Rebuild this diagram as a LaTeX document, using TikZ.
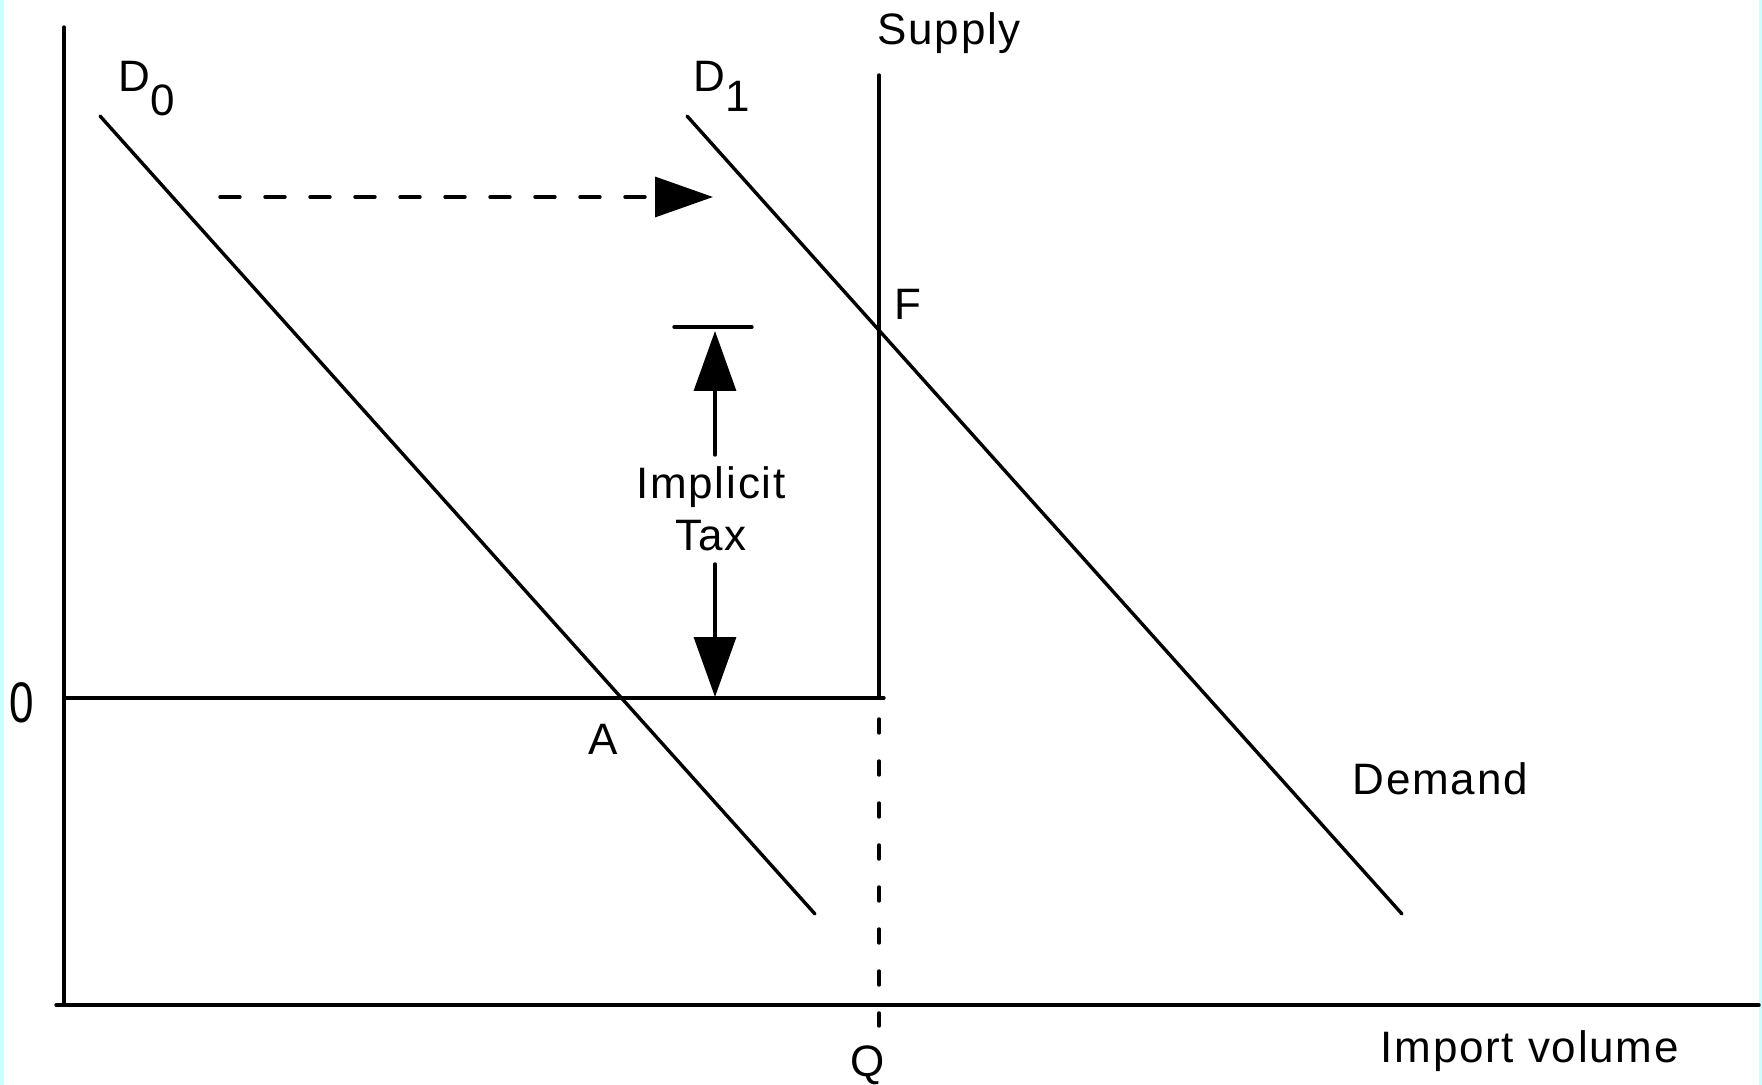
\documentclass[tikz,border=0pt]{standalone}
\usepackage{fontspec}
\setmainfont{Liberation Sans}[LetterSpace=4]
\usetikzlibrary{arrows.meta,positioning,calc}
\definecolor{edgecyan}{HTML}{CCFFFF}

\begin{document}
\begin{tikzpicture}[x=0.5pt,y=-0.5pt,
    line width=1.7pt, line cap=round,
    lbl/.style={inner sep=0pt,font=\fontsize{22}{26}\selectfont},
    bigtip/.style={-{Triangle[length=30pt,width=21pt]}},
    hdash/.style={dash pattern=on 10pt off 12.5pt},
    vdash/.style={dash pattern=on 7pt off 14pt}]
    \useasboundingbox (0,0) rectangle (1762,1085);

    % Side strips
    \fill[edgecyan] (0,0) rectangle (4,1085);
    \fill[edgecyan] (1759,0) rectangle (1762,1085);

    % Axes
    \coordinate (ytop) at (64,27);
    \coordinate (ybot) at (64,1005);
    \coordinate (xleft) at (56,1005);
    \coordinate (xright) at (1759,1005);
    \draw (ytop) -- (ybot);
    \draw (xleft) -- (xright);

    % Demand curves
    \coordinate (dzeroA) at (100,116);
    \coordinate (dzeroB) at (815,914);
    \coordinate (doneA) at (687,116);
    \coordinate (doneB) at (1402,914);
    \draw (dzeroA) -- (dzeroB);
    \draw (doneA) -- (doneB);

    % Supply (quota) and world price
    \coordinate (suptop) at (879,75);
    \coordinate (supbot) at (879,698);
    \coordinate (qtop) at (879,719);
    \coordinate (qbot) at (879,1026);
    \coordinate (pleft) at (65,698);
    \coordinate (pright) at (884,698);
    \draw (suptop) -- (supbot);
    \draw[vdash] (qtop) -- (qbot);
    \draw (pleft) -- (pright);

    % Shift of demand
    \coordinate (shiftA) at (220,197);
    \coordinate (shiftB) at (713,197);
    \draw[hdash,-{Triangle[length=29pt,width=20pt]}] (shiftA) -- (shiftB);

    % Implicit tax
    \coordinate (barL) at (674,327);
    \coordinate (barR) at (752,327);
    \draw (barL) -- (barR);
    \node[lbl,align=center] (tax) at (711,509) {Implicit\\Tax};
    \coordinate (taxtop) at (715,455);
    \coordinate (taxup) at (715,331);
    \coordinate (taxbot) at (715,564);
    \coordinate (taxdown) at (715,697);
    \draw[bigtip] (taxtop) -- (taxup);
    \draw[bigtip] (taxbot) -- (taxdown);

    % Labels
    \node[lbl,anchor=base west] (dzero) at (117,92) {D\raisebox{-12pt}{0}};
    \node[lbl,anchor=base west] (done) at (692,92) {D\raisebox{-10pt}{1}};
    \node[lbl,anchor=base west] (supply) at (876,45) {Supply};
    \node[lbl,anchor=base west] (ptF) at (893,320) {F};
    \node[lbl,anchor=base] (zero) at (22,722) {\scalebox{1}[1.3]{0}};
    \node[lbl,anchor=base] (ptA) at (603,754) {A};
    \node[lbl,anchor=base west] (demand) at (1351,794) {Demand};
    \node[lbl,anchor=base] (qty) at (868,1076) {Q};
    \node[lbl,anchor=base west] (xlabel) at (1379,1062) {Import volume};
\end{tikzpicture}
\end{document}
